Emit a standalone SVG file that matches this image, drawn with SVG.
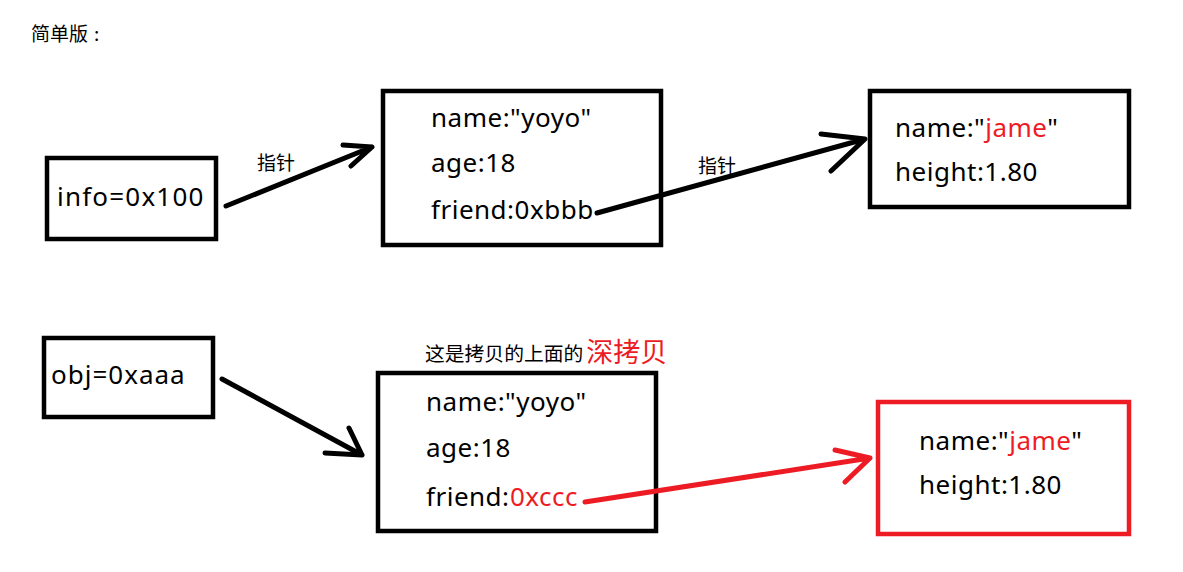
<svg xmlns="http://www.w3.org/2000/svg" width="1183" height="572" viewBox="0 0 1183 572">
<style>
.box{fill:none;stroke:#000;stroke-width:4.5}
.rbox{fill:none;stroke:#ed1c24;stroke-width:4.5}
.t{font-family:"Noto Sans","Open Sans","Liberation Sans",sans-serif;font-size:26px;letter-spacing:0.5px;fill:#000}
.red{fill:#ed1c24}
.cjk{font-family:"Noto Sans CJK SC","Noto Sans",sans-serif;fill:#000}
.ar{fill:none;stroke:#000;stroke-width:5;stroke-linecap:round;stroke-linejoin:round}
.arr{fill:none;stroke:#ed1c24;stroke-width:5;stroke-linecap:round;stroke-linejoin:round}
</style>
<rect width="1183" height="572" fill="#fff"/>
<text class="cjk" x="31" y="41" font-size="19">简单版<tspan x="94">:</tspan></text>
<g id="info">
<rect class="box" x="47" y="158" width="169" height="81"/>
<text class="t" x="57" y="206" style="letter-spacing:1.2px">info=0x100</text>
</g>
<g id="obj1">
<rect class="box" x="383" y="91" width="278" height="154"/>
<text class="t" x="431" y="127">name:"yoyo"</text>
<text class="t" x="431" y="172">age:18</text>
<text class="t" x="431" y="219">friend:0xbbb</text>
</g>
<g id="friend1">
<rect class="box" x="870" y="91" width="259" height="116"/>
<text class="t" x="895" y="137">name:"<tspan class="red">jame</tspan>"</text>
<text class="t" x="895" y="181">height:1.80</text>
</g>
<g id="obj">
<rect class="box" x="44" y="338" width="169" height="79"/>
<text class="t" x="51" y="384" style="letter-spacing:1px">obj=0xaaa</text>
</g>
<g id="obj2">
<text class="cjk" x="425" y="361" font-size="19.8">这是拷贝的上面的<tspan class="red" font-size="27" dx="3" dy="1">深拷贝</tspan></text>
<rect class="box" x="378" y="373" width="278" height="158"/>
<text class="t" x="426" y="411">name:"yoyo"</text>
<text class="t" x="426" y="457">age:18</text>
<text class="t" x="426" y="506">friend:<tspan class="red" x="510">0xccc</tspan></text>
</g>
<g id="friend2">
<rect class="rbox" x="878" y="402" width="251" height="132"/>
<text class="t" x="919" y="450">name:"<tspan class="red">jame</tspan>"</text>
<text class="t" x="919" y="494">height:1.80</text>
</g>
<g id="connectors">
<path class="ar" d="M226,206 L372,147 M343,145 L372,147 L351,166"/>
<text class="cjk" x="257" y="170" font-size="19">指针</text>
<path class="ar" d="M597,213 L865,139 M821,134 L865,139 L831,171"/>
<text class="cjk" x="698" y="173" font-size="19">指针</text>
<path class="ar" d="M222,379 L362,455 M349,428 L362,455 L325,453"/>
<path class="arr" d="M585,502 L870,458 M835,450 L870,458 L845,482"/>
</g>
</svg>
